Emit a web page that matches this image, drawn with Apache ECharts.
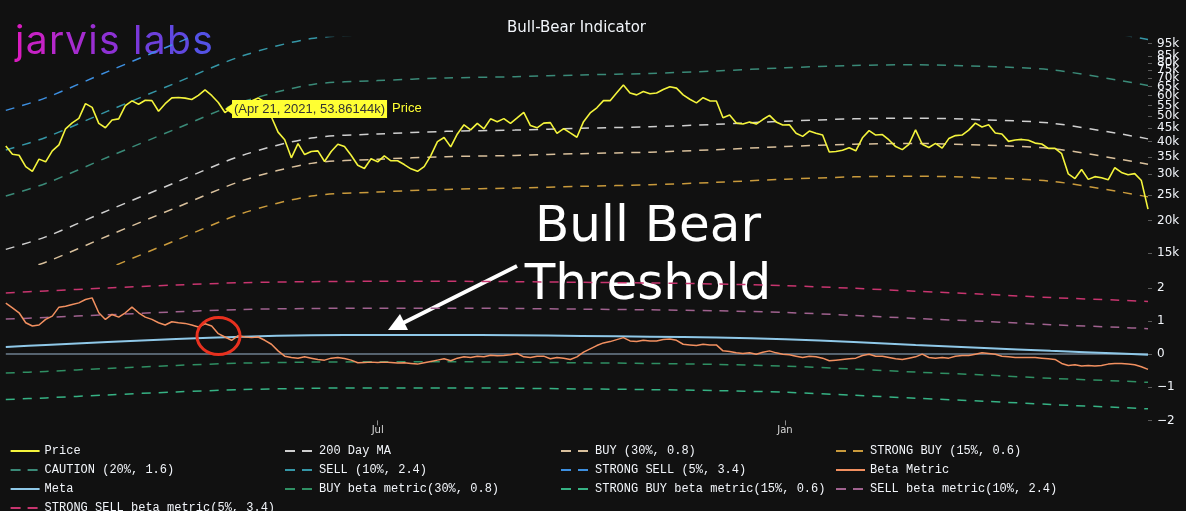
<!DOCTYPE html>
<html><head><meta charset="utf-8">
<script src="https://cdn.jsdelivr.net/npm/echarts@6/dist/echarts.min.js"></script>
<style>html,body{margin:0;padding:0;background:#111111;}#c{width:1186px;height:511px;}</style>
</head><body><div id="c"></div>
<script>
// ---------- DATA ----------
// Price sampled every 3 days starting 2021-01-14 (values in thousands of USD)
const priceStart = '2021-01-14';
const priceStepDays = 3;
const price = [
 38.5,35.8,35.5,32.1,30.8,34.3,
 33.5,36.9,38.9,44.8,47.2,49.1,55.9,54.1,47.0,45.2,
 48.4,48.9,54.9,57.3,55.6,57.6,57.4,52.3,55.9,58.8,
 59.0,58.7,58.0,60.1,63.1,60.1,56.5,51.7,54.0,53.6,
 56.6,57.2,58.8,56.7,49.7,43.5,40.7,34.7,39.3,35.7,
 36.7,36.9,33.6,36.7,39.1,38.3,35.5,32.5,31.6,34.4,
 33.5,35.3,33.8,33.8,32.7,31.5,30.8,32.1,35.4,40.0,41.5,
 38.2,42.8,46.4,44.4,47.0,44.8,48.9,47.7,49.0,47.0,
 49.3,51.8,46.1,45.2,47.1,47.3,43.0,44.9,43.2,41.6,
 47.7,51.5,53.9,57.4,57.4,61.5,65.9,61.4,60.4,62.2,
 61.0,61.4,63.3,64.9,64.1,60.4,58.1,56.3,58.9,57.3,
 57.2,49.4,50.6,47.1,46.7,47.6,46.7,48.6,50.4,47.6,46.3,
 46.4,43.1,41.9,43.9,43.1,42.4,36.5,36.7,37.1,37.9,
 36.9,41.4,44.1,42.4,42.6,40.6,38.3,37.3,39.1,
 44.4,39.1,38.0,39.4,37.8,41.1,42.2,42.4,44.3,47.1,45.5,
 46.4,43.2,42.8,40.1,40.6,40.8,40.5,39.5,39.2,37.7,
 37.7,36.0,30.1,28.9,31.3,28.7,29.4,29.1,28.6,31.8,
 30.5,29.9,30.2,28.4,22.1
];
const betaMetric = [
 1.54,1.40,1.25,0.95,0.85,0.88,1.05,1.15,1.42,1.45,
 1.50,1.55,1.65,1.70,1.25,1.05,1.20,1.12,1.25,1.42,
 1.25,1.12,1.05,0.95,0.88,0.98,0.95,0.93,0.88,0.82,
 0.92,0.85,0.62,0.52,0.42,0.56,0.52,0.50,0.52,0.42,
 0.30,0.10,-0.06,-0.10,-0.12,-0.08,-0.12,-0.16,-0.18,-0.12,
 -0.10,-0.13,-0.18,-0.26,-0.25,-0.24,-0.25,-0.24,-0.25,-0.27,
 -0.26,-0.28,-0.30,-0.26,-0.22,-0.18,-0.14,-0.20,-0.12,-0.08,
 -0.10,-0.06,-0.08,-0.03,-0.05,-0.04,-0.02,0.02,-0.08,-0.10,
 -0.06,-0.06,-0.14,-0.10,-0.12,-0.16,-0.08,0.06,0.16,0.26,
 0.34,0.38,0.44,0.50,0.40,0.38,0.42,0.40,0.40,0.44,
 0.46,0.42,0.30,0.28,0.26,0.30,0.28,0.28,0.10,0.08,
 0.04,0.02,0.04,0.00,0.06,0.10,0.04,0.00,-0.02,-0.06,
 -0.10,-0.06,-0.08,-0.12,-0.20,-0.18,-0.16,-0.14,-0.12,-0.04,
 0.00,-0.06,-0.06,-0.10,-0.14,-0.16,-0.12,-0.08,0.00,-0.10,
 -0.12,-0.10,-0.12,-0.06,-0.04,-0.04,0.00,0.04,0.02,0.00,
 -0.06,-0.08,-0.10,-0.10,-0.10,-0.10,-0.12,-0.14,-0.16,-0.28,
 -0.34,-0.32,-0.36,-0.34,-0.36,-0.34,-0.30,-0.28,-0.28,-0.30,
 -0.32,-0.38,-0.46
];
// Smooth curves read at monthly points
const bandDates = ['2021-01-14','2021-02-01','2021-03-01','2021-04-01','2021-05-01','2021-06-01','2021-07-01','2021-08-01','2021-09-01','2021-10-01','2021-11-01','2021-12-01','2022-01-01','2022-02-01','2022-03-01','2022-04-01','2022-05-01','2022-06-01','2022-06-14'];
const ma200      = [15.5,17.3,21.8,28.0,35.5,41.3,42.8,43.8,44.3,45.0,45.6,46.6,47.9,48.9,49.2,48.5,47.1,42.9,41.0];
const buyBand    = [12.4,13.84,17.44,22.4,28.4,33.04,34.24,35.04,35.44,36.0,36.48,37.28,38.32,39.12,39.36,38.8,37.68,34.32,32.8];
const strongBuyBand = [9.3,10.38,13.08,16.8,21.3,24.78,25.68,26.28,26.58,27.0,27.36,27.96,28.74,29.34,29.52,29.1,28.26,25.74,24.6];
const cautionBand = [24.8,27.68,34.88,44.8,56.8,66.08,68.48,70.08,70.88,72.0,72.96,74.56,76.64,78.24,78.72,77.6,75.36,68.64,65.6];
const sellBand   = [37.2,41.52,52.32,67.2,85.2,99.12,102.72,105.12,106.32,108.0,109.44,111.84,114.96,117.36,118.08,116.4,113.04,102.96,98.4];
const strongSellBand = [52.7,58.82,74.12,95.2,120.7,140.42,145.52,148.92,150.62,153.0,155.04,158.44,162.86,166.26,167.28,164.9,160.14,145.86,139.4];
const meta       = [0.22,0.28,0.37,0.46,0.53,0.57,0.58,0.58,0.57,0.55,0.53,0.50,0.45,0.37,0.28,0.19,0.10,0.02,-0.02];
const strongSellBeta = [1.85,1.91,2.00,2.09,2.16,2.19,2.20,2.20,2.19,2.17,2.15,2.12,2.07,1.99,1.90,1.81,1.71,1.63,1.59];
const sellBeta   = [1.06,1.11,1.19,1.28,1.35,1.38,1.39,1.39,1.38,1.36,1.34,1.31,1.26,1.17,1.08,0.99,0.89,0.81,0.77];
const buyBeta    = [-0.57,-0.52,-0.43,-0.34,-0.27,-0.24,-0.23,-0.23,-0.24,-0.26,-0.28,-0.31,-0.36,-0.45,-0.54,-0.63,-0.73,-0.81,-0.85];
const strongBuyBeta = [-1.37,-1.32,-1.23,-1.14,-1.07,-1.03,-1.02,-1.02,-1.03,-1.05,-1.07,-1.10,-1.15,-1.24,-1.33,-1.42,-1.52,-1.61,-1.65];
const priceTicks = [15,20,25,30,35,40,45,50,55,60,65,70,75,80,85,90,95];
const betaTicks = [-2,-1,0,1,2];
const xTickDates = ['2021-07-01','2022-01-01'];
const monthNames = ['Jan','Feb','Mar','Apr','May','Jun','Jul','Aug','Sep','Oct','Nov','Dec'];

// ---------- HELPERS ----------
function toTime(s){const p=s.split('-').map(Number);return new Date(p[0],p[1]-1,p[2]).getTime();}
const sp = priceStart.split('-').map(Number);
const priceTimes = price.map((_,i)=>new Date(sp[0],sp[1]-1,sp[2]+i*priceStepDays).getTime());
const bandTimes = bandDates.map(toTime);
const pair = (times, vals) => vals.map((v,i)=>[times[i], v]);
const tMin = toTime('2021-01-14'), tMax = toTime('2022-06-14');
const xTicks = xTickDates.map(toTime);

const C = {
  price:'#f4f43c', ma:'#cfcfcf', buy:'#d9c09c', sbuy:'#c99a3c', caution:'#3a8a78',
  sell:'#3596a6', ssell:'#3d8fe0', beta:'#f29060', meta:'#8fc8e8',
  buyB:'#2f8f63', sbuyB:'#36b284', sellB:'#a0628f', ssellB:'#c8356f'
};
const dash = [9,8];
function bandSeries(name, times, vals, color, xi, yi){
  return {name, type:'line', xAxisIndex:xi, yAxisIndex:yi, data:pair(times, vals), symbol:'none',
    smooth:0.3, lineStyle:{color, width:1.5, type:dash}, itemStyle:{color}, silent:true, z:2};
}
const LD = {type:[10,7]};
const legendCommon = {orient:'vertical', itemWidth:29, itemHeight:14, itemGap:7, padding:0, height:200,
  selectedMode:false, itemStyle:{opacity:0}, lineStyle:{width:2},
  textStyle:{fontFamily:'Liberation Mono', fontSize:12, color:'#f2f5fa'}};
const leg = (left, top, items) => Object.assign({left, top, data:items.map(n=>typeof n==='string'?{name:n}:n)}, legendCommon);
const dl = n => ({name:n, lineStyle:LD});

const chart = echarts.init(document.getElementById('c'), null, {renderer:'canvas'});
const axisFont = 'DejaVu Sans';
const option = {
  backgroundColor:'#111111',
  animation:false,
  grid:[
    {left:5.8, right:38, top:37.6, height:226.6},
    {left:5.8, right:38, top:271.4, height:149}
  ],
  xAxis:[
    {type:'value', gridIndex:0, min:tMin, max:tMax, show:false, splitLine:{show:false}},
    {type:'value', gridIndex:1, min:tMin, max:tMax, axisLine:{show:false, onZero:false}, splitLine:{show:false},
     minorTick:{show:false},
     axisTick:{show:true, length:5, lineStyle:{color:'#8a8a8a'}, customValues:xTicks},
     axisLabel:{customValues:xTicks, formatter:v=>monthNames[new Date(v).getMonth()], color:'#d8d8d8',
       fontFamily:axisFont, fontSize:10, margin:5}}
  ],
  yAxis:[
    {type:'log', logBase:10, gridIndex:0, position:'right', min:13.6, max:100,
     axisLine:{show:false}, splitLine:{show:false}, minorTick:{show:false},
     axisTick:{show:true, length:4, lineStyle:{color:'#5a5a5a'}, customValues:priceTicks},
     axisLabel:{customValues:priceTicks, showMaxLabel:true, showMinLabel:true, hideOverlap:false,
       formatter:v=>Math.round(v)+'k', color:'#f2f5fa', fontFamily:axisFont, fontSize:12, margin:9}},
    {type:'value', gridIndex:1, position:'right', min:-2, max:2.5,
     axisLine:{show:false}, splitLine:{show:false},
     axisTick:{show:true, length:4, lineStyle:{color:'#5a5a5a'}, customValues:betaTicks},
     axisLabel:{customValues:betaTicks, showMaxLabel:true, showMinLabel:true,
       formatter:v=>(v<0?'\u2212'+Math.abs(v):String(v)), color:'#f2f5fa', fontFamily:axisFont, fontSize:12, margin:9}}
  ],
  legend:[
    leg(9.6, 445, ['Price', dl('CAUTION (20%, 1.6)'), 'Meta']),
    leg(9.6, 502, [dl('STRONG SELL beta metric(5%, 3.4)')]),
    leg(284, 445, [dl('200 Day MA'), dl('SELL (10%, 2.4)'), dl('BUY beta metric(30%, 0.8)')]),
    leg(560, 445, [dl('BUY (30%, 0.8)'), dl('STRONG SELL (5%, 3.4)'), dl('STRONG BUY beta metric(15%, 0.6)')]),
    leg(835, 445, [dl('STRONG BUY (15%, 0.6)'), 'Beta Metric', dl('SELL beta metric(10%, 2.4)')])
  ],
  series:[
    {name:'Price', type:'line', xAxisIndex:0, yAxisIndex:0, data:pair(priceTimes, price), symbol:'none',
     lineStyle:{color:C.price, width:1.6}, itemStyle:{color:C.price}, z:3,
     markPoint:{silent:true, symbol:'triangle', symbolSize:[10,7], symbolRotate:90, symbolOffset:[8,1],
       itemStyle:{color:'#ffff33', opacity:1},
       data:[{coord:[toTime('2021-04-21'), 53.86144],
         label:{show:true, position:'right', distance:0,
           formatter:'{b|(Apr 21, 2021, 53.86144k)}{n|Price}',
           rich:{b:{backgroundColor:'#ffff33', color:'#333333', fontFamily:'Liberation Sans', fontSize:13, padding:[3,2,2,2]},
                 n:{color:'#ffff33', fontFamily:'Liberation Sans', fontSize:13, padding:[0,0,0,5]}}}}]}},
    bandSeries('200 Day MA', bandTimes, ma200, C.ma, 0, 0),
    bandSeries('BUY (30%, 0.8)', bandTimes, buyBand, C.buy, 0, 0),
    bandSeries('STRONG BUY (15%, 0.6)', bandTimes, strongBuyBand, C.sbuy, 0, 0),
    bandSeries('CAUTION (20%, 1.6)', bandTimes, cautionBand, C.caution, 0, 0),
    bandSeries('SELL (10%, 2.4)', bandTimes, sellBand, C.sell, 0, 0),
    bandSeries('STRONG SELL (5%, 3.4)', bandTimes, strongSellBand, C.ssell, 0, 0),
    {name:'Beta Metric', type:'line', xAxisIndex:1, yAxisIndex:1, data:pair(priceTimes, betaMetric), symbol:'none',
     lineStyle:{color:C.beta, width:1.5}, itemStyle:{color:C.beta}, z:4},
    {name:'Meta', type:'line', xAxisIndex:1, yAxisIndex:1, data:pair(bandTimes, meta), symbol:'none', smooth:0.3,
     lineStyle:{color:C.meta, width:2}, itemStyle:{color:C.meta}, z:3,
     markLine:{silent:true, symbol:'none', label:{show:false}, lineStyle:{color:'#56636f', width:2, type:'solid'},
       data:[{yAxis:0}], z:1}},
    bandSeries('BUY beta metric(30%, 0.8)', bandTimes, buyBeta, C.buyB, 1, 1),
    bandSeries('STRONG BUY beta metric(15%, 0.6)', bandTimes, strongBuyBeta, C.sbuyB, 1, 1),
    bandSeries('SELL beta metric(10%, 2.4)', bandTimes, sellBeta, C.sellB, 1, 1),
    bandSeries('STRONG SELL beta metric(5%, 3.4)', bandTimes, strongSellBeta, C.ssellB, 1, 1)
  ],
  graphic:[
    {type:'text', x:576.5, y:28, style:{text:'Bull-Bear Indicator', fill:'#f2f5fa', font:'15px "DejaVu Sans"', textAlign:'center', textVerticalAlign:'middle'}},
    {type:'text', x:15, y:42, style:{
      text:'{a|j}{b|a}{c|r}{d|v}{e|i}{f|s}{g| }{h|l}{i|a}{j|b}{k|s}', textVerticalAlign:'middle',
      rich:{a:{fill:'#d81cbf',font:'39px Inter',padding:[0,1.3,0,0]},b:{fill:'#c622c6',font:'39px Inter',padding:[0,1.3,0,0]},c:{fill:'#b528cb',font:'39px Inter',padding:[0,1.3,0,0]},
            d:{fill:'#a62ccf',font:'39px Inter',padding:[0,1.3,0,0]},e:{fill:'#9a2fd2',font:'39px Inter',padding:[0,1.3,0,0]},f:{fill:'#8e31d5',font:'39px Inter',padding:[0,1.3,0,0]},
            g:{fill:'#8434d6',font:'39px Inter',padding:[0,1.3,0,0]},h:{fill:'#7a38d9',font:'39px Inter',padding:[0,1.3,0,0]},i:{fill:'#6d40dc',font:'39px Inter',padding:[0,1.3,0,0]},
            j:{fill:'#6048e0',font:'39px Inter',padding:[0,1.3,0,0]},k:{fill:'#5452e5',font:'39px Inter'}}}},
    {type:'text', x:648, y:228, style:{text:'Bull Bear', fill:'#ffffff', font:'50px "DejaVu Sans"', textAlign:'center', textVerticalAlign:'middle'}},
    {type:'text', x:648, y:286, style:{text:'Threshold', fill:'#ffffff', font:'50px "DejaVu Sans"', textAlign:'center', textVerticalAlign:'middle'}},
    {type:'line', shape:{x1:517, y1:266, x2:403, y2:323}, style:{stroke:'#ffffff', lineWidth:4}},
    {type:'polygon', shape:{points:[[388,330],[408,330],[400,314]]}, style:{fill:'#ffffff'}},
    {type:'ellipse', shape:{cx:218.5, cy:336, rx:21.5, ry:18.5}, style:{fill:null, stroke:'#e8311f', lineWidth:3}, z:100}
  ]
};
chart.setOption(option);
</script>
</body></html>
